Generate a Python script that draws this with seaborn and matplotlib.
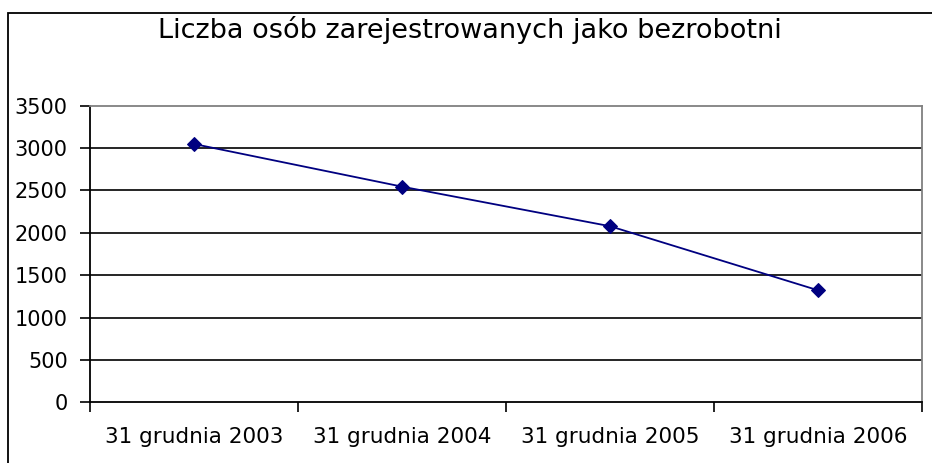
import pandas as pd
import matplotlib.pyplot as plt
import seaborn as sns
import numpy as np
from matplotlib.patches import Rectangle
from matplotlib.ticker import FixedLocator

# Dane z wykresu
kategorie = ['31 grudnia 2003', '31 grudnia 2004', '31 grudnia 2005', '31 grudnia 2006']
bezrobotni = [3048, 2545, 2078, 1322]
tytul = 'Liczba osób zarejestrowanych jako bezrobotni'
y_ticks = [0, 500, 1000, 1500, 2000, 2500, 3000, 3500]

df = pd.DataFrame({'poz': np.arange(len(kategorie)), 'wartosc': bezrobotni})

sns.set_style('white')
plt.rcParams['font.family'] = ['DejaVu Sans']
plt.rcParams['text.color'] = 'black'

fig = plt.figure(figsize=(9.32, 4.63), dpi=100)
ax = fig.add_axes([90 / 932, 1 - 402.3 / 463, (922 - 90) / 932, (402.3 - 105.7) / 463])

sns.lineplot(data=df, x='poz', y='wartosc', ax=ax, color='#000080', linewidth=1.3,
             marker='D', markersize=7, markeredgecolor='#000080', zorder=5)

ax.set_xlim(-0.5, len(kategorie) - 0.5)
ax.set_ylim(0, 3500)
ax.set_yticks(y_ticks)
ax.set_yticklabels([str(v) for v in y_ticks], fontsize=15, color='black')
ax.set_xticks(df['poz'])
ax.set_xticklabels(kategorie, fontsize=15.5, color='black')
ax.xaxis.set_minor_locator(FixedLocator(np.arange(-0.5, len(kategorie), 1.0)))
ax.tick_params(axis='x', which='major', length=0, pad=18, bottom=True)
ax.tick_params(axis='x', which='minor', length=7, width=1.2, color='black',
               direction='out', bottom=True)
ax.tick_params(axis='y', length=7, width=1.2, color='black', direction='out', pad=9, left=True)
ax.set_xlabel('')
ax.set_ylabel('')

# siatka pozioma
for v in y_ticks[1:-1]:
    ax.axhline(v, color='black', linewidth=1.2, zorder=1)

for s in ['left', 'bottom']:
    ax.spines[s].set_color('black')
    ax.spines[s].set_linewidth(1.3)
for s in ['top', 'right']:
    ax.spines[s].set_color('#808080')
    ax.spines[s].set_linewidth(1.3)

fig.text(0.504, 1 - 30 / 463, tytul, ha='center', va='center', fontsize=19.5, color='black')

# ramka wykresu
fig.patches.append(Rectangle((8 / 932, -0.5), 2.0, 1.5 - 12.5 / 463,
                             transform=fig.transFigure, fill=False,
                             edgecolor='black', linewidth=1.3))

fig.savefig('out.png', dpi=100)
